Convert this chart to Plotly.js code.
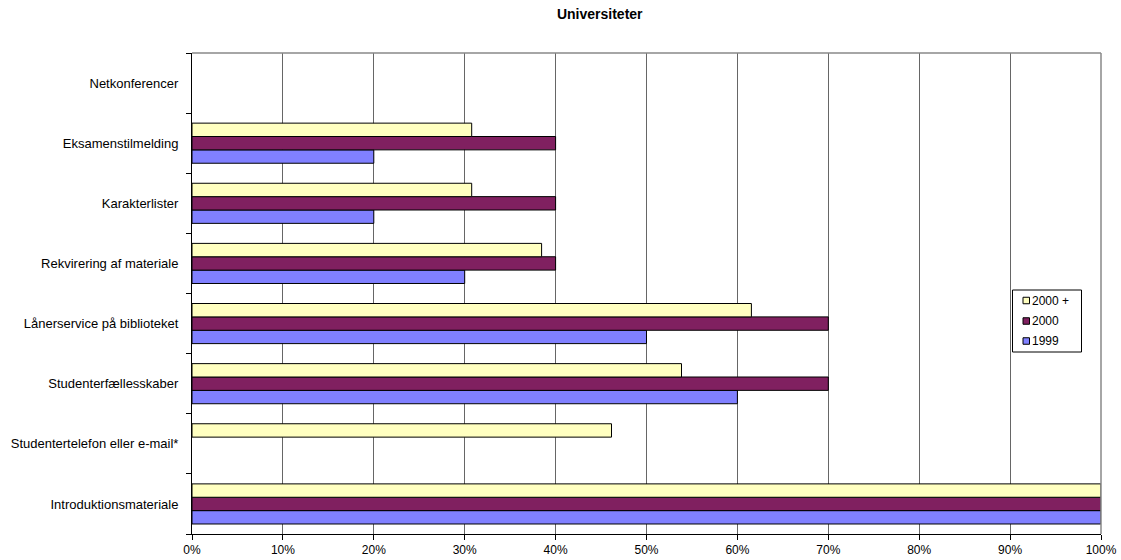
<!DOCTYPE html>
<html>
<head>
<meta charset="utf-8">
<script src="https://cdn.plot.ly/plotly-3.0.1.min.js"></script>
<style>
  html, body { margin: 0; padding: 0; background: #fff; }
  #chart { width: 1121px; height: 560px; }
</style>
</head>
<body>
<div id="chart"></div>
<script>
// Services offered online by universities, share of institutions (%)
const categories = [
  'Introduktionsmateriale',
  'Studentertelefon eller e-mail*',
  'Studenterfællesskaber',
  'Lånerservice på biblioteket',
  'Rekvirering af materiale',
  'Karakterlister',
  'Eksamenstilmelding',
  'Netkonferencer'
];
const seriesNames = ['1999', '2000', '2000 +'];
const values1999 = [100, 0, 60, 50, 30, 20, 20, 0];
const values2000 = [100, 0, 70, 70, 40, 40, 40, 0];
const values2000plus = [100, 46.15, 53.85, 61.54, 38.46, 30.77, 30.77, 0];
const seriesColors = ['#8080FF', '#802060', '#FFFFC0'];

const seriesValues = [values1999, values2000, values2000plus];

// Zero-length bars get no outline so they leave no stray stroke on the axis
const barTraces = seriesValues.map((vals, i) => ({
  type: 'bar',
  orientation: 'h',
  name: seriesNames[i],
  x: vals,
  y: categories,
  marker: {
    color: seriesColors[i],
    line: { color: '#000', width: vals.map(v => (v > 0 ? 1 : 0)) }
  },
  showlegend: false,
  hoverinfo: 'x+y'
}));

// Plot area geometry in pixels (used to place the legend box)
const W = 1121, H = 560;
const M = { l: 192, r: 20, t: 53, b: 26 };
const plotW = W - M.l - M.r, plotH = H - M.t - M.b;
const px = x => (x - M.l) / plotW;
const py = y => (H - M.b - y) / plotH;

// Legend: boxed list with small square swatches, newest series on top
const legendBox = { left: 1012.5, right: 1081.5, top: 290, bottom: 352 };
const legendRows = [300.5, 321, 341];
const legendOrder = [2, 1, 0];
const swatch = 6.5;
const swatchX = 1023;

const legendShapes = [{
  type: 'rect', xref: 'paper', yref: 'paper',
  x0: px(legendBox.left), x1: px(legendBox.right),
  y0: py(legendBox.bottom), y1: py(legendBox.top),
  line: { color: '#000', width: 1 }, fillcolor: '#fff', layer: 'above'
}];
const legendAnnotations = [];
legendOrder.forEach((s, r) => {
  const cy = legendRows[r];
  legendShapes.push({
    type: 'rect', xref: 'paper', yref: 'paper',
    x0: px(swatchX), x1: px(swatchX + swatch),
    y0: py(cy + swatch / 2), y1: py(cy - swatch / 2),
    line: { color: '#000', width: 1 }, fillcolor: seriesColors[s], layer: 'above'
  });
  legendAnnotations.push({
    xref: 'paper', yref: 'paper',
    x: px(swatchX + swatch + 0.5), y: py(cy),
    xanchor: 'left', yanchor: 'middle',
    text: seriesNames[s], showarrow: false,
    font: { size: 12, color: '#000' }
  });
});

const layout = {
  width: W,
  height: H,
  margin: { l: M.l, r: M.r, t: M.t, b: M.b, pad: 0 },
  paper_bgcolor: '#fff',
  plot_bgcolor: '#fff',
  font: { family: 'Arial, "Liberation Sans", sans-serif', color: '#000', size: 12 },
  title: {
    text: '<b>Universiteter</b>',
    font: { size: 14, family: 'Arial, "Liberation Sans", sans-serif', color: '#000' },
    xref: 'container', x: 0.535, xanchor: 'center',
    yref: 'container', y: 0.975, yanchor: 'middle'
  },
  showlegend: false,
  barmode: 'group',
  bargap: 0.333,
  bargroupgap: 0,
  xaxis: {
    range: [0, 100],
    dtick: 10,
    tick0: 0,
    ticksuffix: '%',
    showgrid: true,
    gridcolor: '#666',
    gridwidth: 1,
    zeroline: false,
    showline: true,
    linecolor: '#000',
    linewidth: 1,
    ticks: 'outside',
    ticklen: 5,
    tickcolor: '#000',
    tickfont: { size: 12 },
    fixedrange: true
  },
  yaxis: {
    type: 'category',
    categoryorder: 'array',
    categoryarray: categories,
    showgrid: false,
    zeroline: false,
    showline: true,
    linecolor: '#000',
    linewidth: 1,
    ticks: 'outside',
    tickson: 'boundaries',
    ticklen: 5,
    tickcolor: '#000',
    tickfont: { size: 13 },
    ticklabelstandoff: 10,
    fixedrange: true
  },
  shapes: [
    { type: 'line', xref: 'paper', yref: 'paper', x0: 0, x1: 1, y0: 1, y1: 1,
      line: { color: '#888', width: 1.5 } },
    { type: 'line', xref: 'paper', yref: 'paper', x0: 1, x1: 1, y0: 0, y1: 1,
      line: { color: '#888', width: 1.5 } }
  ].concat(legendShapes),
  annotations: legendAnnotations
};

Plotly.newPlot('chart', barTraces, layout, { displayModeBar: false, staticPlot: true });
</script>
</body>
</html>
